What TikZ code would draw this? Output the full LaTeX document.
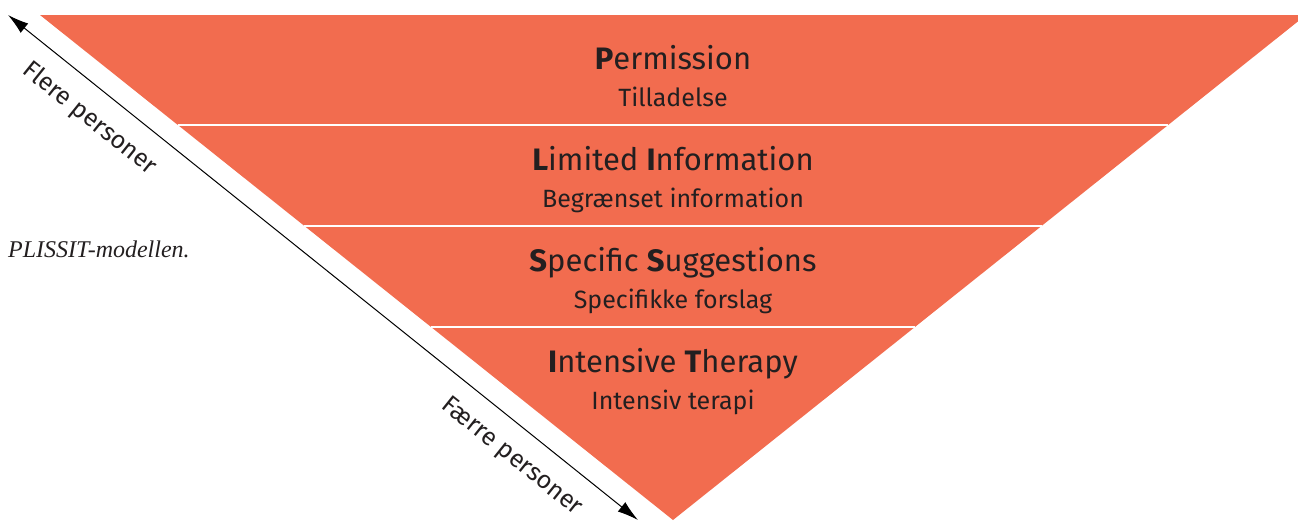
\documentclass[tikz,border=0pt]{standalone}
\usepackage{fontspec}
\setmainfont{Fira Sans}
\newfontfamily\capfont{Liberation Serif}
\usetikzlibrary{calc,positioning,arrows.meta}
\definecolor{plissit}{RGB}{242,108,79}
\definecolor{ink}{RGB}{35,31,32}

\begin{document}
\begin{tikzpicture}[
    x=1pt, y=-1pt,
    level/.style={anchor=base, inner sep=0pt, text=ink, font=\fontsize{31}{35}\selectfont},
    sublevel/.style={anchor=base, inner sep=0pt, text=ink, font=\fontsize{25}{29}\selectfont},
    side/.style={inner sep=0pt, text=ink, rotate=-38.7, font=\fontsize{25}{29}\selectfont},
    band/.style={white, line width=1.5pt},
 ]
    \useasboundingbox (0,0) rectangle (1298,520);
    \coordinate (A) at (40,15);
    \coordinate (B) at (1306,15);
    \coordinate (C) at (673,520);
    \fill[plissit] (A) -- (B) -- (C) -- cycle;

    % white lines between the levels
    \draw[band] ($(A)!0.2178!(C)$) -- ($(B)!0.2178!(C)$);
    \draw[band] ($(A)!0.4178!(C)$) -- ($(B)!0.4178!(C)$);
    \draw[band] ($(A)!0.6178!(C)$) -- ($(B)!0.6178!(C)$);

    \node[level] (P) at (673,69) {\textbf{P}ermission};
    \node[sublevel] (P1) at (673,106) {Tilladelse};
    \node[level] (LI) at (673,170) {\textbf{L}imited \textbf{I}nformation};
    \node[sublevel] (LI1) at (673,207) {Begrænset information};
    \node[level] (SS) at (673,271) {\textbf{S}pecific \textbf{S}uggestions};
    \node[sublevel] (SS1) at (673,308) {Specifikke forslag};
    \node[level] (IT) at (673,372) {\textbf{I}ntensive \textbf{T}herapy};
    \node[sublevel] (IT1) at (673,409) {Intensiv terapi};

    \coordinate (S) at (8,15);
    \coordinate (E) at (638,520);
    \draw[line width=1pt, {Latex[length=21pt,width=12pt]}-{Latex[length=21pt,width=12pt]}] (S) -- (E);
    \coordinate (F) at ($(S)!0.159!(E)$);
    \coordinate (G) at ($(S)!0.829!(E)$);
    \node[side] (flere) at ($(F)!30pt!-90:(E)$) {Flere personer};
    \node[side] (faerre) at ($(G)!30pt!-90:(E)$) {Færre personer};

    \node[anchor=base west, inner sep=0pt, text=ink, font=\capfont\itshape\fontsize{24}{28}\selectfont] (cap) at (8,257) {PLISSIT-modellen.};
\end{tikzpicture}
\end{document}
